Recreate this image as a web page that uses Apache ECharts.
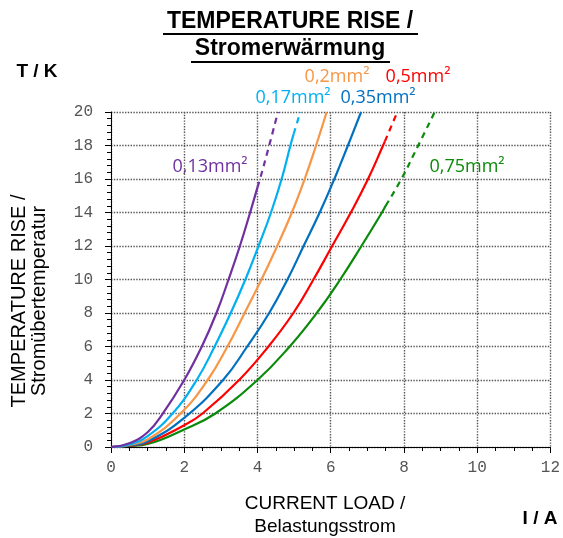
<!DOCTYPE html>
<html>
<head>
<meta charset="utf-8">
<script src="https://cdn.jsdelivr.net/npm/echarts@6/dist/echarts.min.js"></script>
<style>
html,body{margin:0;padding:0;background:#fff;}
#chart{width:563px;height:538px;}
</style>
</head>
<body>
<div id="chart"></div>
<script>
// Current load I (A), temperature rise T (K)
const xTicks = [0, 2, 4, 6, 8, 10, 12];
const yTicks = [0, 2, 4, 6, 8, 10, 12, 14, 16, 18, 20];

const s013Solid = [[0,0],[0.5,0.22],[1.0,0.88],[1.4,1.95],[2.0,4],[2.48,6],[2.88,8],[3.21,10],[3.52,12],[3.8,14],[4.0,15.5]];
const s013Dash  = [[4.0,15.5],[4.07,16],[4.32,18],[4.56,20]];

const s017Solid = [[0,0],[0.5,0.15],[1.0,0.65],[1.68,2],[2.34,4],[2.83,6],[3.27,8],[3.67,10],[4.03,12],[4.37,14],[4.66,16],[4.9,18],[4.99,18.7]];
const s017Dash  = [[4.99,18.7],[5.17,20]];

const s020Solid = [[0,0],[0.5,0.12],[1.0,0.45],[1.9,2],[2.64,4],[3.18,6],[3.65,8],[4.11,10],[4.54,12],[4.94,14],[5.29,16],[5.6,18],[5.89,20]];

const s035Solid = [[0,0],[0.5,0.1],[1.0,0.33],[2.0,1.74],[3.06,4],[3.72,6],[4.32,8],[4.82,10],[5.26,12],[5.7,14],[6.1,16],[6.47,18],[6.83,20]];

const s050Solid = [[0,0],[0.5,0.08],[1.0,0.25],[2.0,1.3],[2.5,2],[3.5,4],[4.3,6],[4.98,8],[5.53,10],[6.04,12],[6.55,14],[7.02,16],[7.43,18],[7.48,18.25]];
const s050Dash  = [[7.48,18.25],[7.82,20]];

const s075Solid = [[0,0],[0.5,0.06],[1.0,0.18],[2.0,1.05],[2.85,2],[4.0,4],[4.88,6],[5.62,8],[6.26,10],[6.84,12],[7.4,14],[7.5,14.4]];
const s075Dash  = [[7.5,14.4],[7.93,16],[8.39,18],[8.84,20]];

const seriesNames = ['0,13mm²','0,17mm²','0,2mm²','0,35mm²','0,5mm²','0,75mm²'];
const colors = ['#7030A0','#00B0F0','#F79646','#0070C0','#FF0000','#0A8A0A'];

const titleLines = ['TEMPERATURE RISE /', 'Stromerwärmung'];
const yNameLines = ['TEMPERATURE RISE /', 'Stromübertemperatur'];
const xNameLines = ['CURRENT LOAD /', 'Belastungsstrom'];
const yUnit = 'T / K';
const xUnit = 'I / A';

function line(name, data, color, dashed) {
  return {
    name: name, type: 'line', data: data, showSymbol: false,
    smooth: 0.45,
    lineStyle: { color: color, width: 2.2, type: dashed ? [6, 5] : 'solid' },
    itemStyle: { color: color }, silent: true, z: 3
  };
}

const chart = echarts.init(document.getElementById('chart'), null, { renderer: 'canvas' });
const tickFont = { fontFamily: 'Liberation Mono', fontSize: 16, color: '#555' };
const labelFont = 'Open Sans';

const option = {
  animation: false,
  backgroundColor: '#fff',
  grid: { left: 111, right: 11, top: 112, bottom: 91, containLabel: false },
  xAxis: {
    type: 'value', min: 0, max: 12, interval: 2,
    axisLine: { show: true, onZero: false, lineStyle: { color: '#000', width: 1 } },
    axisTick: { show: true, length: 6, lineStyle: { color: '#000' } },
    minorTick: { show: true, splitNumber: 4, length: 4, lineStyle: { color: '#000' } },
    axisLabel: Object.assign({ margin: 13 }, tickFont),
    splitLine: { show: true, lineStyle: { color: '#555', type: 'dotted', width: 1.4 } }
  },
  yAxis: {
    type: 'value', min: 0, max: 20, interval: 2,
    axisLine: { show: true, onZero: false, lineStyle: { color: '#000', width: 1 } },
    axisTick: { show: true, length: 6, lineStyle: { color: '#000' } },
    minorTick: { show: true, splitNumber: 5, length: 4, lineStyle: { color: '#000' } },
    axisLabel: Object.assign({ margin: 18 }, tickFont),
    splitLine: { show: true, lineStyle: { color: '#555', type: 'dotted', width: 1.4 } }
  },
  series: [
    line(seriesNames[5], s075Solid, colors[5], false),
    line(seriesNames[5], s075Dash, colors[5], true),
    line(seriesNames[4], s050Solid, colors[4], false),
    line(seriesNames[4], s050Dash, colors[4], true),
    line(seriesNames[3], s035Solid, colors[3], false),
    line(seriesNames[2], s020Solid, colors[2], false),
    line(seriesNames[1], s017Solid, colors[1], false),
    line(seriesNames[1], s017Dash, colors[1], true),
    line(seriesNames[0], s013Solid, colors[0], false),
    line(seriesNames[0], s013Dash, colors[0], true)
  ],
  graphic: [
    { type: 'text', x: 290, y: 22, style: { text: titleLines[0], font: 'bold 23px "Liberation Sans"', fill: '#000', align: 'center', verticalAlign: 'middle' } },
    { type: 'line', shape: { x1: 163, y1: 34, x2: 418, y2: 34 }, style: { stroke: '#000', lineWidth: 2 } },
    { type: 'text', x: 290, y: 49, style: { text: titleLines[1], font: 'bold 23px "Liberation Sans"', fill: '#000', align: 'center', verticalAlign: 'middle' } },
    { type: 'line', shape: { x1: 191, y1: 62, x2: 390, y2: 62 }, style: { stroke: '#000', lineWidth: 2 } },
    { type: 'text', x: 37, y: 72, style: { text: yUnit, font: 'bold 19px "Liberation Sans"', fill: '#000', align: 'center', verticalAlign: 'middle' } },
    { type: 'text', x: 540, y: 519, style: { text: xUnit, font: 'bold 19px "Liberation Sans"', fill: '#000', align: 'center', verticalAlign: 'middle' } },
    { type: 'text', x: 325, y: 504, style: { text: xNameLines[0], font: '19px "Liberation Sans"', fill: '#000', align: 'center', verticalAlign: 'middle' } },
    { type: 'text', x: 325, y: 527, style: { text: xNameLines[1], font: '19px "Liberation Sans"', fill: '#000', align: 'center', verticalAlign: 'middle' } },
    { type: 'text', x: 19, y: 301, rotation: Math.PI / 2, style: { text: yNameLines[0], font: '20px "Liberation Sans"', fill: '#000', align: 'center', verticalAlign: 'middle' } },
    { type: 'text', x: 39, y: 301, rotation: Math.PI / 2, style: { text: yNameLines[1], font: '20px "Liberation Sans"', fill: '#000', align: 'center', verticalAlign: 'middle' } },
    { type: 'text', x: 210, y: 167, style: { text: seriesNames[0], font: '18px "' + labelFont + '"', fill: colors[0], align: 'center', verticalAlign: 'middle' } },
    { type: 'text', x: 293, y: 98, style: { text: seriesNames[1], font: '18px "' + labelFont + '"', fill: colors[1], align: 'center', verticalAlign: 'middle' } },
    { type: 'text', x: 337, y: 77, style: { text: seriesNames[2], font: '18px "' + labelFont + '"', fill: colors[2], align: 'center', verticalAlign: 'middle' } },
    { type: 'text', x: 378, y: 98, style: { text: seriesNames[3], font: '18px "' + labelFont + '"', fill: colors[3], align: 'center', verticalAlign: 'middle' } },
    { type: 'text', x: 418, y: 77, style: { text: seriesNames[4], font: '18px "' + labelFont + '"', fill: colors[4], align: 'center', verticalAlign: 'middle' } },
    { type: 'text', x: 467, y: 167, style: { text: seriesNames[5], font: '18px "' + labelFont + '"', fill: colors[5], align: 'center', verticalAlign: 'middle' } }
  ]
};
chart.setOption(option);
</script>
</body>
</html>
